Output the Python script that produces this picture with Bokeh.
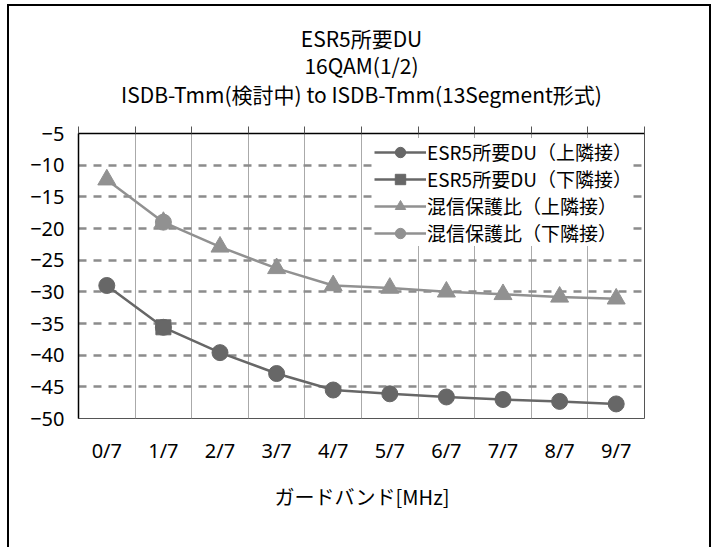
from bokeh.plotting import figure
from bokeh.models import (Range1d, LinearAxis, FixedTicker, Grid, Title, Legend,
                          LegendItem, ColumnDataSource)
from bokeh.embed import file_html
from bokeh.resources import INLINE

# ---- data ----
categories = ["0/7", "1/7", "2/7", "3/7", "4/7", "5/7", "6/7", "7/7", "8/7", "9/7"]
du_upper = [-29.0, -35.6, -39.6, -42.9, -45.5, -46.1, -46.6, -47.0, -47.3, -47.7]
du_lower_cats = ["1/7"]
du_lower = [-35.6]
pr_upper = [-12.3, -19.0, -22.9, -26.3, -29.0, -29.4, -30.0, -30.4, -30.8, -31.1]
pr_lower_cats = ["1/7"]
pr_lower = [-19.0]
y_ticks = [-50, -45, -40, -35, -30, -25, -20, -15, -10, -5]
series_labels = ["ESR5所要DU（上隣接）", "ESR5所要DU（下隣接）",
                 "混信保護比（上隣接）", "混信保護比（下隣接）"]
title_lines = ["ESR5所要DU", "16QAM(1/2)", "ISDB-Tmm(検討中) to ISDB-Tmm(13Segment形式)"]
x_title = "ガードバンド[MHz]"

CJK = "Noto Sans CJK JP"
LAT = "Noto Sans"

pos = {c: i + 0.5 for i, c in enumerate(categories)}
centers = [pos[c] for c in categories]
bounds = [float(i) for i in range(len(categories) + 1)]

p = figure(width=704, height=543, title=None,
           x_range=Range1d(0, len(categories)), y_range=Range1d(y_ticks[0], y_ticks[-1]),
           x_axis_type=None, y_axis_type=None,
           output_backend="svg", toolbar_location=None,
           min_border_left=69, min_border_right=69, min_border_top=127, min_border_bottom=131,
           outline_line_color="#555555", outline_line_width=1,
           background_fill_color="white", border_fill_color="white",
           styles={"border-left": "2px solid black", "border-top": "2px solid black",
                   "border-right": "2px solid black", "margin-left": "7px",
                   "margin-top": "4px"})

# grids
p.add_layout(Grid(dimension=0, ticker=FixedTicker(ticks=bounds),
                  grid_line_color="#aaaaaa", grid_line_width=1))
p.add_layout(Grid(dimension=1, ticker=FixedTicker(ticks=y_ticks),
                  grid_line_color="#8c8c8c", grid_line_width=2.5, grid_line_dash="8 7"))

# axes
yaxis = LinearAxis(ticker=FixedTicker(ticks=y_ticks),
                   major_label_overrides={t: "\u2212" + str(abs(t)) for t in y_ticks},
                   axis_line_color="black", axis_line_width=1.5,
                   major_tick_out=0, major_tick_in=0, minor_tick_out=0, minor_tick_in=0,
                   major_label_standoff=14, major_label_text_font=LAT,
                   major_label_text_font_size="20px", major_label_text_color="black")
p.add_layout(yaxis, "left")

xaxis = LinearAxis(ticker=FixedTicker(ticks=centers),
                   major_label_overrides={pos[c]: c for c in categories},
                   axis_line_color=None, major_tick_out=0, major_tick_in=0,
                   minor_tick_out=0, minor_tick_in=0,
                   major_label_standoff=18, major_label_text_font=LAT,
                   major_label_text_font_size="20px", major_label_text_color="black",
                   axis_label=x_title, axis_label_standoff=15,
                   axis_label_text_font=CJK, axis_label_text_font_size="20px",
                   axis_label_text_font_style="normal", axis_label_text_color="black")
p.add_layout(xaxis, "below")

topaxis = LinearAxis(ticker=FixedTicker(ticks=bounds),
                     major_label_overrides={b: "" for b in bounds},
                     axis_line_color="black", axis_line_width=1.5,
                     major_tick_out=7, major_tick_in=0, major_tick_line_color="#555555",
                     minor_tick_out=0, minor_tick_in=0,
                     major_label_standoff=0, major_label_text_font_size="1px")
p.add_layout(topaxis, "above")

# invisible spacer between the top axis and the titles
spacer = LinearAxis(ticker=FixedTicker(ticks=[bounds[0]]),
                    major_label_overrides={bounds[0]: ""},
                    axis_line_color="white", axis_line_alpha=0,
                    major_tick_out=19, major_tick_in=0,
                    major_tick_line_color="white", major_tick_line_alpha=0,
                    minor_tick_out=0, minor_tick_in=0,
                    major_label_standoff=0, major_label_text_font_size="1px")
p.add_layout(spacer, "above")

for i, line in enumerate(reversed(title_lines)):
    p.add_layout(Title(text=line, align="center", text_font=CJK, text_font_size="21px",
                       text_font_style="normal", text_color="black",
                       standoff=-7 if i == 2 else -3), "above")

# series
dark = "#676767"
light = "#919191"
src1 = ColumnDataSource(dict(x=[pos[c] for c in categories], y=du_upper))
src2 = ColumnDataSource(dict(x=[pos[c] for c in du_lower_cats], y=du_lower))
src3 = ColumnDataSource(dict(x=[pos[c] for c in categories], y=pr_upper))
src4 = ColumnDataSource(dict(x=[pos[c] for c in pr_lower_cats], y=pr_lower))

l1 = p.line("x", "y", source=src1, line_color=dark, line_width=2.5)
m1 = p.scatter("x", "y", source=src1, marker="circle", size=16, fill_color=dark, line_color=dark)
l2 = p.line("x", "y", source=src2, line_color=dark, line_width=2.5)
m2 = p.scatter("x", "y", source=src2, marker="square", size=15, fill_color=dark, line_color=dark)
l3 = p.line("x", "y", source=src3, line_color=light, line_width=2.5)
m3 = p.scatter("x", "y", source=src3, marker="triangle", size=18, fill_color=light, line_color=light)
l4 = p.line("x", "y", source=src4, line_color=light, line_width=2.5)
m4 = p.scatter("x", "y", source=src4, marker="circle", size=16, fill_color=light, line_color=light)

legend = Legend(items=[LegendItem(label=series_labels[0], renderers=[l1, m1]),
                       LegendItem(label=series_labels[1], renderers=[l2, m2]),
                       LegendItem(label=series_labels[2], renderers=[l3, m3]),
                       LegendItem(label=series_labels[3], renderers=[l4, m4])],
                location=(296, 172), orientation="vertical",
                background_fill_color="white", background_fill_alpha=1.0,
                border_line_color=None, padding=4, margin=0, spacing=0,
                glyph_width=52, glyph_height=26, label_height=26, label_width=205,
                label_standoff=1, label_text_font=CJK, label_text_font_size="19px",
                label_text_color="black")
p.add_layout(legend, "center")

open("out.html", "w").write(file_html(p, INLINE))
